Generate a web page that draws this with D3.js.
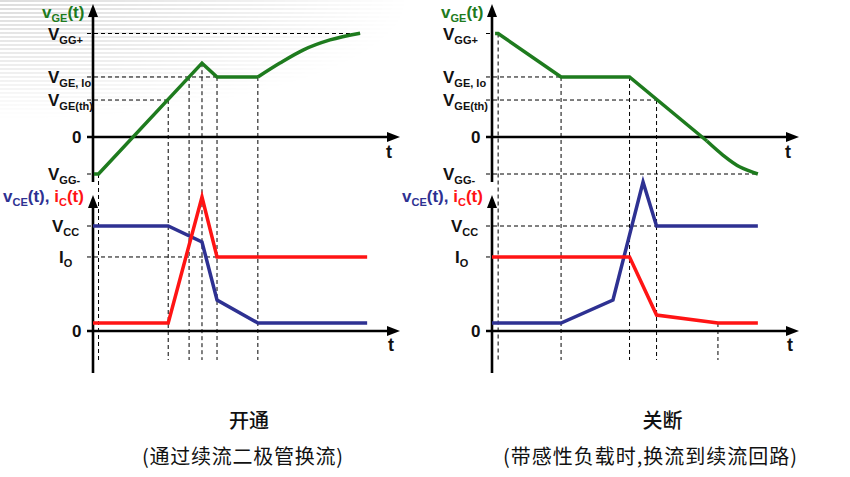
<!DOCTYPE html>
<html><head><meta charset="utf-8">
<script src="https://cdn.jsdelivr.net/npm/d3@7"></script>
<style>body{margin:0;background:#fff} svg{display:block}</style>
</head><body><svg id="c" width="850" height="477"></svg>
<script>
// ---------------- data ----------------
const topLevelValues = [15, 8.7, 5.36, 0, -5.36];
const topLevelMain   = ["V", "V", "V", "0", "V"];
const topLevelSub    = ["GG+", "GE, Io", "GE(th)", "", "GG-"];
const botLevelValues = [1, 0.705, 0];
const botLevelMain   = ["V", "I", "0"];
const botLevelSub    = ["CC", "O", ""];

// turn-on (开通)
const onVgeLinear = [[0.03,-5.36],[0.18,-5.36],[3.55,10.7],[4.04,8.7],[5.37,8.7]];
const onVgeCurve  = [[5.37,8.7],[6.09,10.72],[6.84,12.6],[7.72,14.07],[8.70,15.05]];
const onVce = [[0,1],[2.45,1],[3.55,0.848],[4.04,0.295],[5.37,0.076],[8.93,0.076]];
const onIc  = [[0,0.076],[2.45,0.076],[3.55,1.276],[4.04,0.705],[8.93,0.705]];
const onMarkT     = [0.18, 2.45, 3.13, 3.55, 4.04, 5.37];
const onMarkStart = [-5.36, 5.36, 8.7, 10.7, 8.7, 8.7];
const onTopHEnd   = [8.70, 4.04, 2.45, null, null];
const onBotHEnd   = [null, 4.04, null];

// turn-off (关断)
const offVgeLinear = [[0.1,15],[0.2,15],[2.25,8.7],[4.48,8.7],[7.0,-0.58]];
const offVgeCurve  = [[7.0,-0.58],[7.52,-2.61],[8.08,-4.35],[8.40,-4.95],[8.66,-5.36]];
const offVce = [[0,0.076],[2.25,0.076],[3.94,0.295],[4.92,1.419],[5.36,1],[8.66,1]];
const offIc  = [[0,0.705],[4.48,0.705],[5.36,0.152],[7.36,0.076],[8.66,0.076]];
const offMarkT     = [0.2, 2.25, 4.48, 5.36, 7.36];
const offMarkStart = [15, 8.7, 8.7, 5.36, null];
const offMarkBotStart = [null, null, null, null, 0.076];
const offTopHEnd   = [null, 2.25, 5.36, null, 8.66];
const offBotHEnd   = [5.36, null, null];

const captions    = ["开通", "关断"];
const subCaptions = ["(通过续流二极管换流)", "(带感性负载时,换流到续流回路)"];

// ---------------- style ----------------
const GREEN = "#1e7b1e", BLUE = "#2e3192", RED = "#ff1414", INK = "#111";
const FONT = "'Liberation Sans', Arial, sans-serif";
const CJK = "'Noto Sans CJK SC', sans-serif";

const svg = d3.select("#c");
const defs = svg.append("defs");

// faint striped background in the upper-left corner
const pat = defs.append("pattern").attr("id","stripes").attr("patternUnits","userSpaceOnUse")
  .attr("width",8).attr("height",4);
pat.append("rect").attr("width",8).attr("height",2).attr("fill","#d9d9d9");
const rg = defs.append("radialGradient").attr("id","fade").attr("gradientUnits","userSpaceOnUse")
  .attr("cx",0).attr("cy",0).attr("r",1).attr("gradientTransform","scale(410,120)");
rg.append("stop").attr("offset",0).attr("stop-color","#fff").attr("stop-opacity",0.9);
rg.append("stop").attr("offset",0.6).attr("stop-color","#fff").attr("stop-opacity",0.4);
rg.append("stop").attr("offset",1).attr("stop-color","#fff").attr("stop-opacity",0);
const mask = defs.append("mask").attr("id","fadeMask");
mask.append("rect").attr("width",850).attr("height",477).attr("fill","url(#fade)");
svg.append("rect").attr("width",850).attr("height",477).attr("fill","url(#stripes)").attr("mask","url(#fadeMask)");

// ---------------- helpers ----------------
function richText(g, x, y, parts, opts = {}) {
  const size = opts.size || 17, sub = opts.subSize || 11, shift = opts.shift || 4;
  const t = g.append("text").attr("x", x).attr("y", y)
    .attr("font-family", FONT).attr("font-weight", "bold").attr("font-size", size)
    .attr("text-anchor", opts.anchor || "start");
  let lowered = false;
  parts.forEach(p => {
    const s = t.append("tspan").text(p.t).attr("fill", p.c || INK);
    if (p.sub) { s.attr("font-size", sub); if (!lowered) { s.attr("dy", shift); lowered = true; } }
    else { s.attr("font-size", size); if (lowered) { s.attr("dy", -shift); lowered = false; } }
  });
  return t;
}
function arrowUp(g, x, yBottom, yTip) {
  g.append("line").attr("x1",x).attr("x2",x).attr("y1",yBottom).attr("y2",yTip+8)
    .attr("stroke","#000").attr("stroke-width",2.6);
  g.append("path").attr("d",`M${x},${yTip}L${x-5},${yTip+13}L${x+5},${yTip+13}Z`).attr("fill","#000");
}
function arrowRight(g, xStart, xTip, y) {
  g.append("line").attr("x1",xStart).attr("x2",xTip-8).attr("y1",y).attr("y2",y)
    .attr("stroke","#000").attr("stroke-width",2.6);
  g.append("path").attr("d",`M${xTip},${y}L${xTip-13},${y-5}L${xTip-13},${y+5}Z`).attr("fill","#000");
}
function dashed(g, x1, y1, x2, y2) {
  g.append("line").attr("x1",x1).attr("x2",x2).attr("y1",y1).attr("y2",y2)
    .attr("stroke","#000").attr("stroke-width",1).attr("stroke-dasharray","4,3");
}

const yTop = d3.scaleLinear().domain([-5.36, 15]).range([174, 33.5]);
const yBot = d3.scaleLinear().domain([0, 1]).range([331, 226]);

const panels = [
  { x0: 93, x1: 400, labelOff: 45, botLabelOff: [41, 34, 21],
    vgeLin: onVgeLinear, vgeCurve: onVgeCurve, vce: onVce, ic: onIc,
    markT: onMarkT, markStart: onMarkStart, markBotStart: onMarkT.map(() => null),
    topHEnd: onTopHEnd, botHEnd: onBotHEnd, capX: 249, subX: 242.5, subLen: 201 },
  { x0: 492, x1: 799, labelOff: 49, botLabelOff: [41, 37, 21],
    vgeLin: offVgeLinear, vgeCurve: offVgeCurve, vce: offVce, ic: offIc,
    markT: offMarkT, markStart: offMarkStart, markBotStart: offMarkBotStart,
    topHEnd: offTopHEnd, botHEnd: offBotHEnd, capX: 662.5, subX: 650, subLen: 294 }
];
const MARK_BOTTOM = 360;

panels.forEach((p, i) => {
  const g = svg.append("g");
  const x = d3.scaleLinear().domain([0, 10]).range([p.x0, p.x1]);
  const ax = x(0);

  // horizontal dashed guide lines / ticks
  topLevelValues.forEach((v, k) => {
    if (v === 0) return;
    const end = p.topHEnd[k] == null ? ax : x(p.topHEnd[k]);
    dashed(g, ax - 6, yTop(v), end, yTop(v));
  });
  botLevelValues.forEach((v, k) => {
    if (v === 0) return;
    const end = p.botHEnd[k] == null ? ax : x(p.botHEnd[k]);
    dashed(g, ax - 6, yBot(v), end, yBot(v));
  });
  // vertical dashed markers
  p.markT.forEach((t, k) => {
    const y1 = p.markStart[k] != null ? yTop(p.markStart[k]) : yBot(p.markBotStart[k]);
    dashed(g, x(t), y1, x(t), MARK_BOTTOM);
  });

  // axes
  arrowUp(g, ax, 182, 4);
  arrowRight(g, ax - 6, p.x1, yTop(0));
  arrowUp(g, ax, 373, 195);
  arrowRight(g, ax - 6, p.x1, yBot(0));

  // curves
  const lin = d3.line().x(d => x(d[0]));
  const curve = d3.line().x(d => x(d[0])).curve(d3.curveMonotoneX);
  const stroke = (path, col) => path.attr("fill","none").attr("stroke",col).attr("stroke-width",3.5)
      .attr("stroke-linejoin","miter").attr("stroke-linecap","butt");
  stroke(g.append("path").attr("d", lin.y(d => yTop(d[1]))(p.vgeLin)), GREEN);
  stroke(g.append("path").attr("d", curve.y(d => yTop(d[1]))(p.vgeCurve)), GREEN);
  stroke(g.append("path").attr("d", lin.y(d => yBot(d[1]))(p.vce)), BLUE);
  stroke(g.append("path").attr("d", lin.y(d => yBot(d[1]))(p.ic)), RED);

  // level labels
  topLevelValues.forEach((v, k) => {
    const isZero = topLevelMain[k] === "0";
    const parts = isZero ? [{t:"0"}] : [{t: topLevelMain[k]}, {t: topLevelSub[k], sub: true}];
    richText(g, isZero ? ax - 21 : ax - p.labelOff, yTop(v) + 6, parts);
  });
  botLevelValues.forEach((v, k) => {
    const parts = botLevelSub[k] ? [{t: botLevelMain[k]}, {t: botLevelSub[k], sub: true}] : [{t: botLevelMain[k]}];
    richText(g, ax - p.botLabelOff[k], yBot(v) + 6, parts);
  });

  // axis titles
  richText(g, ax - 51, 18, [{t:"v",c:GREEN},{t:"GE",sub:true,c:GREEN},{t:"(t)",c:GREEN}]);
  richText(g, ax - 90, 202, [{t:"v",c:BLUE},{t:"CE",sub:true,c:BLUE},{t:"(t)",c:BLUE},{t:", ",c:BLUE},
                              {t:"i",c:RED},{t:"C",sub:true,c:RED},{t:"(t)",c:RED}]);
  richText(g, p.x1 - 14, 158, [{t:"t"}], {size: 18});
  richText(g, p.x1 - 12, 351, [{t:"t"}], {size: 18});

  // captions
  g.append("text").attr("x", p.capX).attr("y", 428).attr("text-anchor","middle")
    .attr("font-family", CJK).attr("font-size", 20).attr("font-weight", 500).attr("fill", INK)
    .text(captions[i]);
  g.append("text").attr("x", p.subX - p.subLen / 2).attr("y", 464)
    .attr("font-family", CJK).attr("font-size", 20).attr("fill", INK)
    .attr("textLength", p.subLen).attr("lengthAdjust", "spacing")
    .text(subCaptions[i]);
});
</script></body></html>
